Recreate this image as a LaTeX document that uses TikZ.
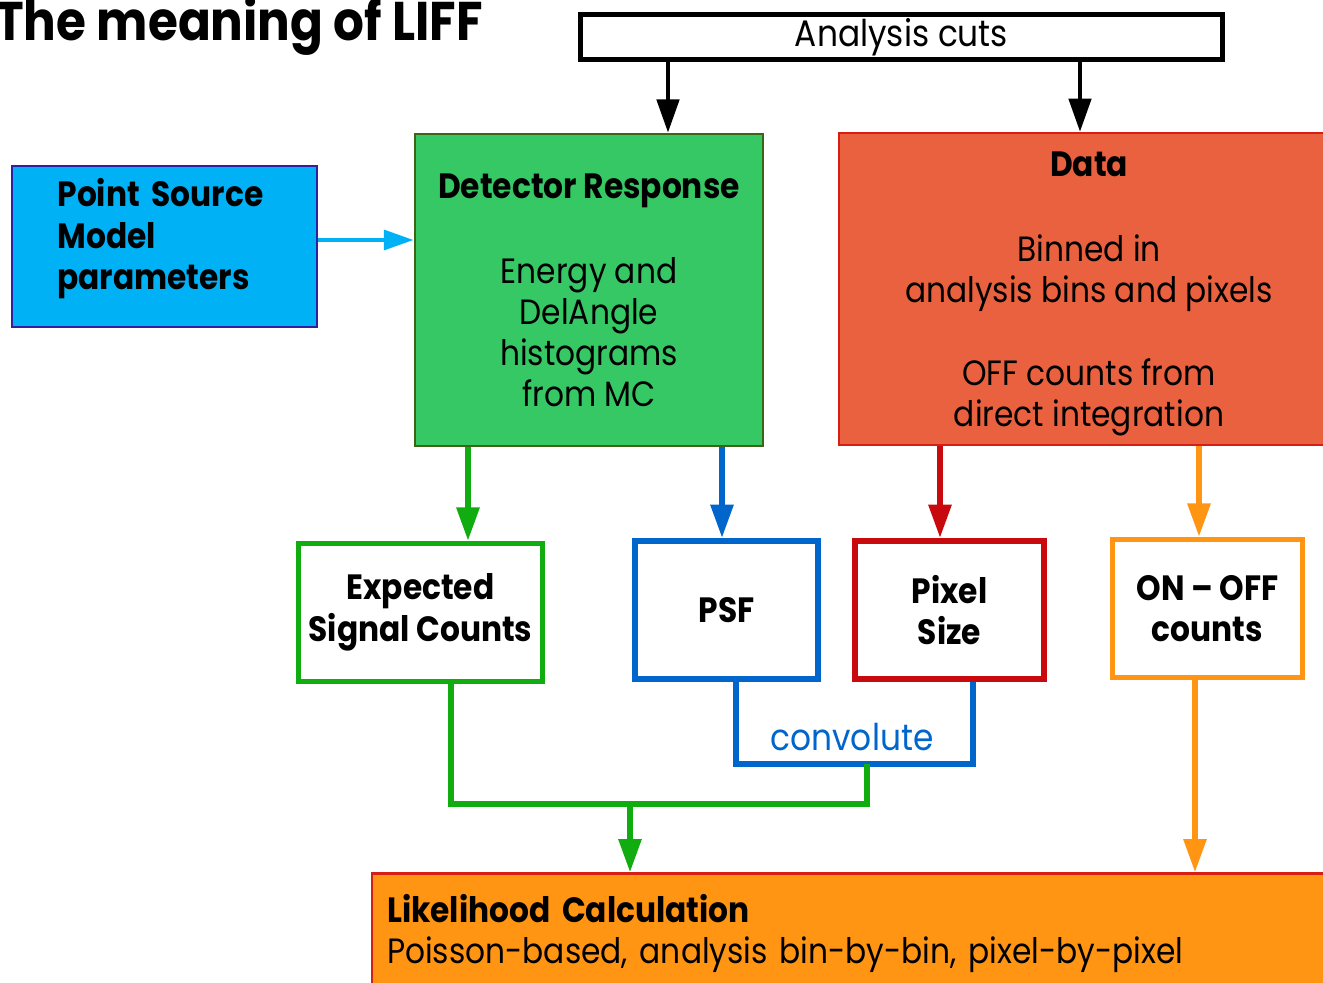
\documentclass[tikz,border=0pt]{standalone}
\usepackage{fontspec}
\setmainfont{Poppins}[FakeStretch=0.89]
\usetikzlibrary{arrows.meta}

\definecolor{psfill}{RGB}{0,178,245}
\definecolor{psdraw}{RGB}{48,32,160}
\definecolor{detfill}{RGB}{53,200,100}
\definecolor{detdraw}{RGB}{60,100,20}
\definecolor{datafill}{RGB}{233,97,63}
\definecolor{datadraw}{RGB}{215,30,20}
\definecolor{expgreen}{RGB}{16,172,16}
\definecolor{psfblue}{RGB}{0,102,204}
\definecolor{pixred}{RGB}{200,10,15}
\definecolor{onorange}{RGB}{255,149,18}

\tikzset{
  box/.style={draw, rectangle, inner sep=0pt, align=center, font=\fontsize{20}{23.3}\selectfont},
  outbox/.style={box, fill=white, line width=3pt},
  tip/.style={-{Triangle[width=12.5pt,length=19pt]}},
  conn/.style={line width=3.4pt},
}

\begin{document}
\begin{tikzpicture}[x=0.02cm,y=-0.02cm]
\useasboundingbox (0,0) rectangle (1323,983);
\clip (0,0) rectangle (1323,983);

\node[anchor=base west, inner sep=0pt, font=\bfseries\fontsize{31}{36}\selectfont] (title) at (-5,41) {The meaning of LIFF};

\node[box, line width=2.8pt, minimum width=12.84cm, minimum height=0.9cm, font=\fontsize{21}{24}\selectfont] (cuts) at (901.5,37) {Analysis cuts};

\node[box, fill=psfill, draw=psdraw, line width=1.4pt, minimum width=6.1cm, minimum height=3.22cm,
  align=left, text width=4.28cm, font=\bfseries\fontsize{20}{23.6}\selectfont] (ps) at (164.5,246.5)
  {Point Source\\Model\\parameters\rule[-14pt]{0pt}{1pt}};

\node[box, fill=detfill, draw=detdraw, line width=1.4pt, minimum width=6.96cm, minimum height=6.24cm] (det) at (589,290)
  {\textbf{Detector Response}\\[25pt]Energy and\\DelAngle\\histograms\\from MC};

\node[box, fill=datafill, draw=datadraw, line width=1.2pt, minimum width=10cm, minimum height=6.24cm] (data) at (1089,289)
  {\rule{0pt}{20pt}\textbf{Data}\\[25pt]Binned in\\analysis bins and pixels\\[24pt]OFF counts from\\direct integration};

\node[outbox, draw=expgreen, minimum width=4.88cm, minimum height=2.76cm, font=\bfseries\fontsize{20}{23.6}\selectfont] (exp) at (420.5,612.5)
  {Expected\\Signal Counts};
\node[outbox, draw=psfblue, line width=3.4pt, minimum width=3.66cm, minimum height=2.76cm, font=\bfseries\fontsize{20}{23.3}\selectfont] (psf) at (726.5,610)
  {PSF};
\node[outbox, draw=pixred, line width=3.4pt, minimum width=3.78cm, minimum height=2.76cm, font=\bfseries\fontsize{20}{23.6}\selectfont] (pix) at (949.5,610)
  {Pixel\\Size};
\node[outbox, draw=onorange, minimum width=3.8cm, minimum height=2.76cm, font=\bfseries\fontsize{20}{23.6}\selectfont] (onoff) at (1207.5,608.5)
  {ON -- OFF\\counts};

\node[box, fill=onorange, draw=datadraw, line width=1.2pt, minimum width=19.36cm, minimum height=2.32cm,
  align=left, text width=18.74cm] (lik) at (855.5,931.5)
  {\rule{0pt}{18pt}\textbf{Likelihood Calculation}\\Poisson-based, analysis bin-by-bin, pixel-by-pixel};

\node[text=psfblue, inner sep=0pt, font=\fontsize{21}{24}\selectfont] (conv) at (852,737) {convolute};

\coordinate (xc1) at (668,0);
\coordinate (xc2) at (1080,0);
\coordinate (ya) at (0,240);
\coordinate (xg) at (468,0);
\coordinate (xb) at (722,0);
\coordinate (xr) at (940,0);
\coordinate (xo) at (1199,0);
\coordinate (xe) at (451,0);
\coordinate (xp1) at (736,0);
\coordinate (xp2) at (973,0);
\coordinate (xl) at (1195,0);
\coordinate (cv) at (867,764);
\coordinate (jn) at (630,804);

\draw[tip, line width=2.8pt] (cuts.south -| xc1) -- (det.north -| xc1);
\draw[tip, line width=2.8pt] (cuts.south -| xc2) -- (data.north -| xc2);
\draw[tip, conn, line width=2.8pt, psfill, -{Triangle[width=11pt,length=17pt]}] (ps.east |- ya) -- (det.west |- ya);

\draw[tip, conn, expgreen] (det.south -| xg) -- (exp.north -| xg);
\draw[tip, conn, psfblue] (det.south -| xb) -- (psf.north -| xb);
\draw[tip, conn, pixred] (data.south -| xr) -- (pix.north -| xr);
\draw[tip, conn, onorange] (data.south -| xo) -- (onoff.north -| xo);

\draw[conn, psfblue] (psf.south -| xp1) |- (cv) -| (pix.south -| xp2);
\draw[conn, expgreen] (exp.south -| xe) |- (jn) -| (cv);
\draw[tip, conn, expgreen] (jn) -- (lik.north -| jn);
\draw[tip, conn, onorange] (onoff.south -| xl) -- (lik.north -| xl);

\end{tikzpicture}
\end{document}
